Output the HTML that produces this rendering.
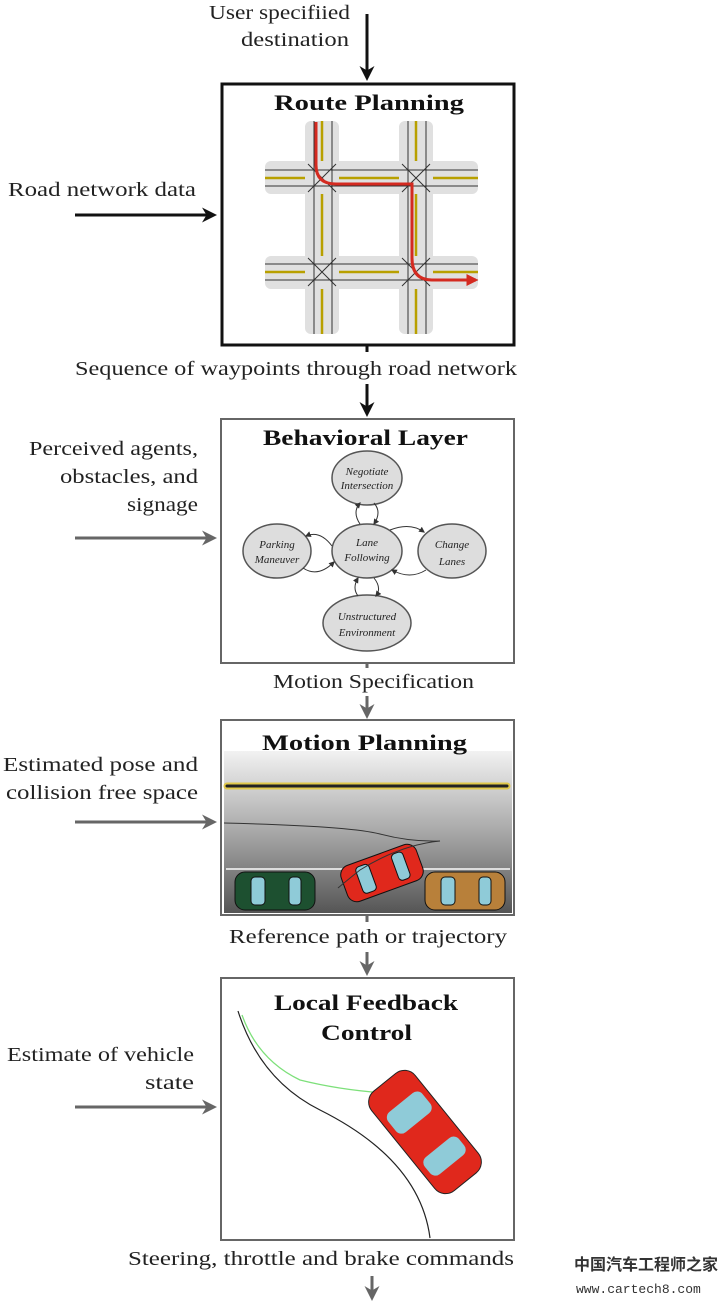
<!DOCTYPE html>
<html><head><meta charset="utf-8"><style>
body{margin:0;background:#fff;width:720px;height:1304px;overflow:hidden}
svg{display:block}
text{font-family:"Liberation Serif",serif;fill:#222}
.t{font-size:20px}
.b{font-size:22px;font-weight:bold;fill:#111}
.e{font-size:11px;font-style:italic}
</style></head><body>
<svg width="720" height="1304" viewBox="0 0 720 1304">
<defs>
<marker id="ak" viewBox="0 0 10 10" refX="8" refY="5" markerWidth="5" markerHeight="5" orient="auto"><path d="M0,0 L10,5 L0,10 L3,5z" fill="#111"/></marker>
<marker id="ag" viewBox="0 0 10 10" refX="8" refY="5" markerWidth="5" markerHeight="5" orient="auto"><path d="M0,0 L10,5 L0,10 L3,5z" fill="#666"/></marker>
<marker id="as" viewBox="0 0 10 10" refX="8" refY="5" markerWidth="6" markerHeight="6" orient="auto"><path d="M0,0 L10,5 L0,10z" fill="#333"/></marker>
<marker id="ar" viewBox="0 0 10 10" refX="8" refY="5" markerWidth="4" markerHeight="4" orient="auto"><path d="M0,0 L10,5 L0,10z" fill="#d42a20"/></marker>
<linearGradient id="rd" x1="0" y1="0" x2="0" y2="1"><stop offset="0" stop-color="#f2f2f2"/><stop offset="0.5" stop-color="#a8a8a8"/><stop offset="1" stop-color="#555"/></linearGradient>
<g id="car">
<rect x="-40" y="-19" width="80" height="38" rx="10"/>
<rect x="-24" y="-14" width="14" height="28" rx="4" fill="#8fcbd8"/>
<rect x="14" y="-14" width="12" height="28" rx="4" fill="#8fcbd8"/>
</g>
</defs>

<text class="t" x="209" y="19" textLength="141" lengthAdjust="spacingAndGlyphs">User specifiied</text>
<text class="t" x="241" y="46" textLength="108" lengthAdjust="spacingAndGlyphs">destination</text>
<line x1="367" y1="14" x2="367" y2="78" stroke="#111" stroke-width="3" marker-end="url(#ak)"/>

<rect x="222" y="84" width="292" height="261" fill="#fff" stroke="#111" stroke-width="3"/>
<text class="b" x="274" y="110" textLength="190" lengthAdjust="spacingAndGlyphs">Route Planning</text>
<g fill="#e0e0e0">
<rect x="305" y="121" width="34" height="213" rx="6"/>
<rect x="399" y="121" width="34" height="213" rx="6"/>
<rect x="265" y="161" width="213" height="33" rx="6"/>
<rect x="265" y="256" width="213" height="33" rx="6"/>
</g>
<g stroke="#b8a000" stroke-width="2.5">
<line x1="322" y1="121" x2="322" y2="161"/><line x1="322" y1="194" x2="322" y2="256"/><line x1="322" y1="289" x2="322" y2="334"/>
<line x1="416" y1="121" x2="416" y2="161"/><line x1="416" y1="194" x2="416" y2="256"/><line x1="416" y1="289" x2="416" y2="334"/>
<line x1="265" y1="178" x2="305" y2="178"/><line x1="339" y1="178" x2="399" y2="178"/><line x1="433" y1="178" x2="478" y2="178"/>
<line x1="265" y1="272" x2="305" y2="272"/><line x1="339" y1="272" x2="399" y2="272"/><line x1="433" y1="272" x2="478" y2="272"/>
</g>
<g stroke="#333" stroke-width="1">
<line x1="314" y1="121" x2="314" y2="334"/><line x1="332" y1="121" x2="332" y2="334"/>
<line x1="408" y1="121" x2="408" y2="334"/><line x1="426" y1="121" x2="426" y2="334"/>
<line x1="265" y1="170" x2="478" y2="170"/><line x1="265" y1="186" x2="478" y2="186"/>
<line x1="265" y1="264" x2="478" y2="264"/><line x1="265" y1="280" x2="478" y2="280"/>
<path d="M308 164 L336 192 M336 164 L308 192 M402 164 L430 192 M430 164 L402 192 M308 258 L336 286 M336 258 L308 286 M402 258 L430 286 M430 258 L402 286"/>
</g>
<path d="M316 122 L316 165 Q316 184 336 184 L412 184 Q412 184 412 196 L412 258 Q412 280 432 280 L476 280" fill="none" stroke="#d42a20" stroke-width="3" marker-end="url(#ar)"/>
<text class="t" x="8" y="196" textLength="188" lengthAdjust="spacingAndGlyphs">Road network data</text>
<line x1="75" y1="215" x2="214" y2="215" stroke="#111" stroke-width="3" marker-end="url(#ak)"/>
<text class="t" x="75" y="375" textLength="442" lengthAdjust="spacingAndGlyphs">Sequence of waypoints through road network</text>
<line x1="367" y1="346" x2="367" y2="352" stroke="#111" stroke-width="3"/>
<line x1="367" y1="384" x2="367" y2="414" stroke="#111" stroke-width="3" marker-end="url(#ak)"/>

<rect x="221" y="419" width="293" height="244" fill="#fff" stroke="#666" stroke-width="2"/>
<text class="b" x="263" y="445" textLength="205" lengthAdjust="spacingAndGlyphs">Behavioral Layer</text>
<g fill="#ddd" stroke="#555" stroke-width="1.5">
<ellipse cx="367" cy="478" rx="35" ry="27"/>
<ellipse cx="367" cy="551" rx="35" ry="27"/>
<ellipse cx="277" cy="551" rx="34" ry="27"/>
<ellipse cx="452" cy="551" rx="34" ry="27"/>
<ellipse cx="367" cy="623" rx="44" ry="28"/>
</g>
<g fill="none" stroke="#333" stroke-width="1" marker-end="url(#as)">
<path d="M360 524 Q352 512 360 503"/><path d="M374 503 Q382 512 374 524"/>
<path d="M390 530 Q410 522 424 532"/><path d="M426 570 Q410 580 392 570"/>
<path d="M332 546 Q320 530 306 536"/><path d="M303 568 Q318 578 334 562"/>
<path d="M374 578 Q382 588 376 596"/><path d="M358 596 Q352 588 358 578"/>
</g>
<g text-anchor="middle">
<text class="e" x="367" y="475">Negotiate</text><text class="e" x="367" y="489">Intersection</text>
<text class="e" x="367" y="546">Lane</text><text class="e" x="367" y="561">Following</text>
<text class="e" x="277" y="548">Parking</text><text class="e" x="277" y="563">Maneuver</text>
<text class="e" x="452" y="548">Change</text><text class="e" x="452" y="565">Lanes</text>
<text class="e" x="367" y="620">Unstructured</text><text class="e" x="367" y="636">Environment</text>
</g>
<text class="t" x="29" y="455" textLength="169" lengthAdjust="spacingAndGlyphs">Perceived agents,</text>
<text class="t" x="60" y="483" textLength="138" lengthAdjust="spacingAndGlyphs">obstacles, and</text>
<text class="t" x="127" y="511" textLength="71" lengthAdjust="spacingAndGlyphs">signage</text>
<line x1="75" y1="538" x2="214" y2="538" stroke="#666" stroke-width="3" marker-end="url(#ag)"/>
<text class="t" x="273" y="688" textLength="201" lengthAdjust="spacingAndGlyphs">Motion Specification</text>
<line x1="367" y1="664" x2="367" y2="668" stroke="#666" stroke-width="3"/>
<line x1="367" y1="696" x2="367" y2="716" stroke="#666" stroke-width="3" marker-end="url(#ag)"/>

<rect x="221" y="720" width="293" height="195" fill="#fff" stroke="#666" stroke-width="2"/>
<rect x="224" y="751" width="288" height="162" fill="url(#rd)"/>
<text class="b" x="262" y="750" textLength="205" lengthAdjust="spacingAndGlyphs">Motion Planning</text>
<line x1="227" y1="786" x2="507" y2="786" stroke="#e0c84a" stroke-width="7" stroke-linecap="round"/>
<line x1="227" y1="786" x2="507" y2="786" stroke="#222" stroke-width="3" stroke-linecap="round"/>
<line x1="226" y1="869" x2="510" y2="869" stroke="#ddd" stroke-width="2"/>
<g fill="#1d5030" stroke="#111" transform="translate(275,891)"><use href="#car"/></g>
<g fill="#b8803a" stroke="#111" transform="translate(465,891)"><use href="#car"/></g>
<g fill="#e0281c" stroke="#111" transform="translate(382,873) rotate(-20)"><use href="#car"/></g>
<path d="M224 823 Q350 826 380 834 Q410 842 440 841 Q400 845 360 870 Q345 882 338 888" fill="none" stroke="#333" stroke-width="1"/>
<text class="t" x="3" y="771" textLength="195" lengthAdjust="spacingAndGlyphs">Estimated pose and</text>
<text class="t" x="6" y="799" textLength="192" lengthAdjust="spacingAndGlyphs">collision free space</text>
<line x1="75" y1="822" x2="214" y2="822" stroke="#666" stroke-width="3" marker-end="url(#ag)"/>
<text class="t" x="229" y="943" textLength="278" lengthAdjust="spacingAndGlyphs">Reference path or trajectory</text>
<line x1="367" y1="916" x2="367" y2="922" stroke="#666" stroke-width="3"/>
<line x1="367" y1="952" x2="367" y2="973" stroke="#666" stroke-width="3" marker-end="url(#ag)"/>

<rect x="221" y="978" width="293" height="262" fill="#fff" stroke="#666" stroke-width="2"/>
<text class="b" x="274" y="1010" textLength="184" lengthAdjust="spacingAndGlyphs">Local Feedback</text>
<text class="b" x="321" y="1040" textLength="91" lengthAdjust="spacingAndGlyphs">Control</text>
<path d="M238 1011 Q260 1080 320 1110 Q420 1160 430 1238" fill="none" stroke="#222" stroke-width="1.2"/>
<path d="M242 1015 Q258 1060 300 1080 Q340 1090 385 1093" fill="none" stroke="#7de07a" stroke-width="1.3"/>
<g transform="translate(425,1132) rotate(51)">
<rect x="-64" y="-28" width="128" height="56" rx="14" fill="#e0281c" stroke="#222"/>
<rect x="-38" y="-22" width="26" height="44" rx="7" fill="#8fcbd8"/>
<rect x="20" y="-22" width="22" height="44" rx="7" fill="#8fcbd8"/>
</g>
<text class="t" x="7" y="1061" textLength="187" lengthAdjust="spacingAndGlyphs">Estimate of vehicle</text>
<text class="t" x="145" y="1089" textLength="49" lengthAdjust="spacingAndGlyphs">state</text>
<line x1="75" y1="1107" x2="214" y2="1107" stroke="#666" stroke-width="3" marker-end="url(#ag)"/>
<text class="t" x="128" y="1265" textLength="386" lengthAdjust="spacingAndGlyphs">Steering, throttle and brake commands</text>
<line x1="372" y1="1276" x2="372" y2="1298" stroke="#666" stroke-width="3" marker-end="url(#ag)"/>
<text x="574" y="1270" style='font-family:"Noto Sans CJK SC",sans-serif;font-size:16px;font-weight:bold;fill:#333'>中国汽车工程师之家</text>
<text x="576" y="1293" style='font-family:"Liberation Mono",monospace;font-size:13px;fill:#333'>www.cartech8.com</text>
</svg>
</body></html>
